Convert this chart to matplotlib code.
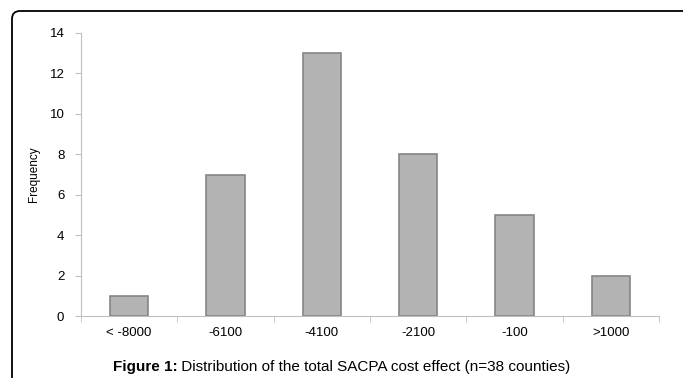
import matplotlib.pyplot as plt
import matplotlib.patches as mpatches
from matplotlib.transforms import IdentityTransform

plt.rcParams['font.family'] = ['Liberation Sans', 'DejaVu Sans']

# data
categories = ['< -8000', '-6100', '-4100', '-2100', '-100', '>1000']
frequency = [1, 7, 13, 8, 5, 2]

fig = plt.figure(figsize=(6.83, 3.78), dpi=100)
ax = fig.add_axes([0.1186, 0.164, 0.8464, 0.7487])

x = range(len(categories))
ax.bar(x, frequency, width=0.4, color='#b3b3b3', edgecolor='#858585', linewidth=1.2)

ax.set_xlim(-0.5, len(categories) - 0.5)
ax.set_ylim(0, 14)
ax.set_yticks(range(0, 15, 2))
ax.set_xticks(list(x))
ax.set_xticklabels(categories, fontsize=9.5)
ax.set_xticks([i + 0.5 for i in range(-1, len(categories))], minor=True)
ax.tick_params(axis='x', which='major', length=0, pad=8)
ax.tick_params(axis='x', which='minor', length=4, color='#bfbfbf', direction='out')
ax.tick_params(axis='y', labelsize=9.5, length=4, color='#bfbfbf', pad=8)
ax.set_ylabel('Frequency', fontsize=8.5, labelpad=7)

for s in ['top', 'right']:
    ax.spines[s].set_visible(False)
ax.spines['left'].set_color('#bfbfbf')
ax.spines['bottom'].set_color('#bfbfbf')

# caption: bold "Figure 1:" followed by normal text, centred together
cap_y = 0.029
t1 = fig.text(0.0, cap_y, 'Figure 1:', fontsize=11, fontweight='bold', va='center')
t2 = fig.text(0.0, cap_y, ' Distribution of the total SACPA cost effect (n=38 counties)',
              fontsize=11, va='center')
fig.canvas.draw()
r = fig.canvas.get_renderer()
w1 = t1.get_window_extent(r).width
w2 = t2.get_window_extent(r).width
x0 = (683 - (w1 + w2)) / 2
t1.set_x(x0 / 683)
t2.set_x((x0 + w1) / 683)

# frame around the figure (left and top edges, rounded corner)
box = mpatches.FancyBboxPatch((12, -30), 720, 367 + 30, boxstyle='round,pad=0,rounding_size=8',
                              transform=IdentityTransform(), fill=False, edgecolor='black',
                              linewidth=1.3)
fig.patches.append(box)

plt.savefig('out.png', dpi=100)
